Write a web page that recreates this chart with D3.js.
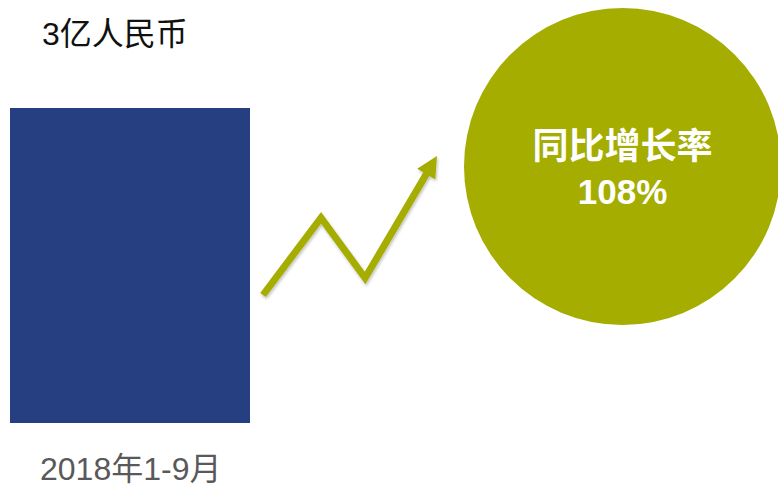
<!DOCTYPE html>
<html>
<head>
<meta charset="utf-8">
<script src="https://cdn.jsdelivr.net/npm/d3@7"></script>
<style>
  html, body { margin: 0; padding: 0; background: #fff; }
  svg { display: block; }
</style>
</head>
<body>
<div id="chart"></div>
<script>
// data
const categories = ["2018年1-9月"];
const values = [3];
const unit = "亿人民币";
const growthLabel = ["同比增长率"];
const growthValues = [108];
// zigzag trend arrow, in abstract steps
const trendX = [0, 1, 1.76, 3];
const trendY = [0, 1, 0.22, 1.8];

let width = 778, height = 488;

let svg = d3.select("#chart")
    .append("svg")
    .attr("width", width)
    .attr("height", height);

let defs = svg.append("defs");

// soft shadow under the arrow
let shadow = defs.append("filter")
    .attr("id", "shadow")
    .attr("x", "-20%").attr("y", "-20%")
    .attr("width", "140%").attr("height", "140%");
shadow.append("feDropShadow")
    .attr("dx", 1).attr("dy", 2)
    .attr("stdDeviation", 1.5)
    .attr("flood-color", "#000")
    .attr("flood-opacity", 0.25);

// arrow head marker
defs.append("marker")
    .attr("id", "head")
    .attr("markerUnits", "userSpaceOnUse")
    .attr("viewBox", "0 0 20 20")
    .attr("markerWidth", 21)
    .attr("markerHeight", 21)
    .attr("refX", 2)
    .attr("refY", 10)
    .attr("orient", "auto")
    .append("path")
    .attr("d", "M0,0 L20,10 L0,20 Z")
    .attr("fill", "#a4ad00");

// bar scales
let x = d3.scaleBand()
    .domain(categories)
    .range([10, 250])
    .padding(0);

let y = d3.scaleLinear()
    .domain([0, d3.max(values)])
    .range([423, 108]);

svg.selectAll(".bar")
    .data(values)
    .enter().append("rect")
    .attr("class", "bar")
    .attr("x", (d, i) => x(categories[i]))
    .attr("y", d => y(d))
    .attr("width", x.bandwidth())
    .attr("height", d => y(0) - y(d))
    .attr("fill", "#253f80");

// value label above the bar
svg.selectAll(".value")
    .data(values)
    .enter().append("text")
    .attr("class", "value")
    .attr("x", (d, i) => x(categories[i]) + 32)
    .attr("y", d => y(d) - 63)
    .attr("font-family", "'Liberation Sans', 'Noto Sans CJK SC', sans-serif")
    .attr("font-size", 32)
    .attr("fill", "#111")
    .text(d => d + unit);

// category label under the bar
svg.selectAll(".cat")
    .data(categories)
    .enter().append("text")
    .attr("class", "cat")
    .attr("x", d => x(d) + 30)
    .attr("y", y(0) + 57)
    .attr("font-family", "'Liberation Sans', 'Noto Sans CJK SC', sans-serif")
    .attr("font-size", 32)
    .attr("fill", "#595959")
    .text(d => d);

// trend arrow
let ax = d3.scaleLinear().domain([0, 3]).range([263, 437]);
let ay = d3.scaleLinear().domain([0, 1.8]).range([295, 156]);

let pts = trendX.map((d, i) => [ax(d), ay(trendY[i])]);
// pull the last point back so the head tip lands on the end
let n = pts.length - 1;
let dx = pts[n][0] - pts[n - 1][0], dy = pts[n][1] - pts[n - 1][1];
let len = Math.sqrt(dx * dx + dy * dy);
pts[n] = [pts[n][0] - dx / len * 19, pts[n][1] - dy / len * 19];

svg.append("path")
    .datum(pts)
    .attr("d", d3.line())
    .attr("fill", "none")
    .attr("stroke", "#a4ad00")
    .attr("stroke-width", 7)
    .attr("stroke-linejoin", "miter")
    .attr("marker-end", "url(#head)")
    .attr("filter", "url(#shadow)");

// growth circle
let r = d3.scaleSqrt().domain([0, 108]).range([0, 158.5]);
let cx = 622.5, cy = 166.5;

svg.selectAll(".bubble")
    .data(growthValues)
    .enter().append("circle")
    .attr("class", "bubble")
    .attr("cx", cx)
    .attr("cy", cy)
    .attr("r", d => r(d))
    .attr("fill", "#a4ad00");

svg.append("text")
    .attr("x", cx)
    .attr("y", 159)
    .attr("text-anchor", "middle")
    .attr("font-family", "'Noto Sans CJK SC', sans-serif")
    .attr("font-weight", "bold")
    .attr("font-size", 36)
    .attr("fill", "#fff")
    .text(growthLabel[0]);

svg.selectAll(".pct")
    .data(growthValues)
    .enter().append("text")
    .attr("class", "pct")
    .attr("x", cx)
    .attr("y", 204)
    .attr("text-anchor", "middle")
    .attr("font-family", "'Liberation Sans', Arial, sans-serif")
    .attr("font-weight", "bold")
    .attr("font-size", 35)
    .attr("fill", "#fff")
    .text(d => d + "%");
</script>
</body>
</html>
